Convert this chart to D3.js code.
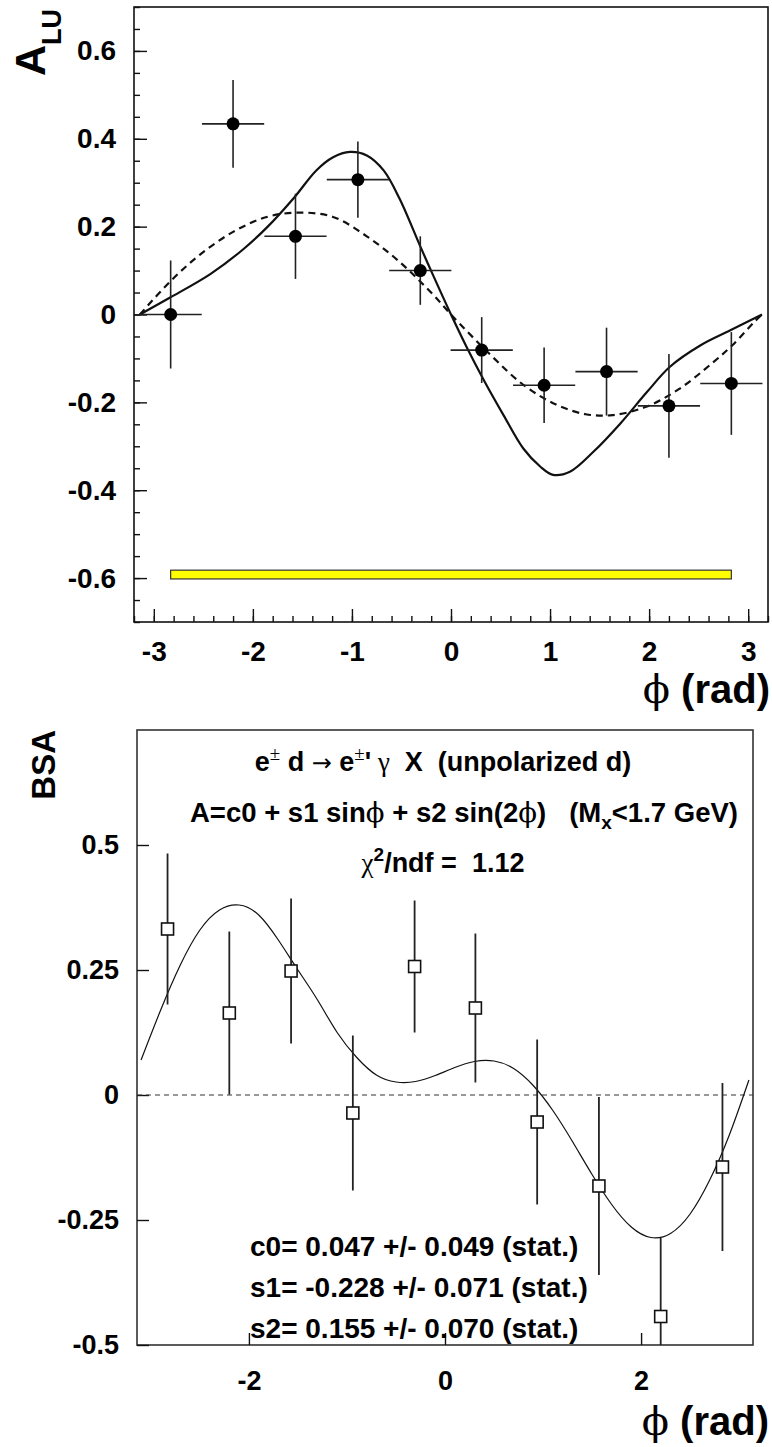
<!DOCTYPE html>
<html>
<head>
<meta charset="utf-8">
<script src="https://cdn.jsdelivr.net/npm/d3@7"></script>
<style>
  body { margin: 0; background: #fff; }
  text { font-family: "Liberation Sans", Arial, sans-serif; font-weight: bold; fill: #000; white-space: pre; }
  .sym { font-family: "Liberation Serif", "Times New Roman", serif; font-weight: normal; }
  .phi { font-family: "DejaVu Serif", "Liberation Serif", serif; font-weight: normal; }
  .arrow { font-family: "DejaVu Sans", sans-serif; font-weight: normal; }
</style>
</head>
<body>
<svg id="chart" width="772" height="1447"></svg>
<script>
// ---- top panel: A_LU vs phi ----
const phiBins = [-2.83, -2.20, -1.57, -0.94, -0.31, 0.31, 0.94, 1.57, 2.20, 2.83]
const binHalfWidth = [0.314, 0.314, 0.314, 0.314, 0.314, 0.314, 0.314, 0.314, 0.314, 0.314]
const aluValues = [0.0, 0.434, 0.178, 0.307, 0.10, -0.081, -0.161, -0.130, -0.208, -0.157]
const aluErrors = [0.123, 0.10, 0.097, 0.087, 0.078, 0.075, 0.086, 0.10, 0.118, 0.117]

const solidPhi = [-3.14, -2.84, -2.43, -2.10, -1.85, -1.58, -1.36, -1.19, -1.02, -0.85, -0.68, -0.52, -0.31, -0.18, 0.0, 0.16, 0.34, 0.53, 0.73, 0.90, 1.03, 1.20, 1.44, 1.71, 1.98, 2.21, 2.52, 2.82, 3.14]
const solidVal = [0.0, 0.038, 0.092, 0.148, 0.20, 0.267, 0.328, 0.358, 0.37, 0.362, 0.328, 0.264, 0.155, 0.089, 0.0, -0.075, -0.153, -0.229, -0.305, -0.346, -0.365, -0.358, -0.312, -0.248, -0.176, -0.119, -0.07, -0.036, 0.0]

const dashedPhi = [-3.14, -2.84, -2.54, -2.20, -1.86, -1.53, -1.19, -0.85, -0.52, -0.18, 0.0, 0.39, 0.73, 1.06, 1.36, 1.63, 1.97, 2.30, 2.64, 2.84, 3.07, 3.14]
const dashedVal = [0.0, 0.074, 0.135, 0.188, 0.222, 0.232, 0.222, 0.178, 0.12, 0.045, 0.0, -0.09, -0.16, -0.205, -0.227, -0.229, -0.21, -0.17, -0.11, -0.07, -0.015, 0.0]

// systematic band: [phi from, phi to, low, high]
const sysBand = [-2.83, 2.83, -0.602, -0.582]

const topXMajor = [-3, -2, -1, 0, 1, 2, 3]
const topXLabels = ['-3', '-2', '-1', '0', '1', '2', '3']
const topYMajor = [-0.6, -0.4, -0.2, 0, 0.2, 0.4, 0.6]
const topYLabels = ['-0.6', '-0.4', '-0.2', '0', '0.2', '0.4', '0.6']

// ---- bottom panel: BSA vs phi ----
const bsaValues = [0.332, 0.164, 0.248, -0.036, 0.257, 0.174, -0.054, -0.182, -0.443, -0.144]
const bsaErrors = [0.151, 0.163, 0.145, 0.155, 0.132, 0.149, 0.165, 0.178, 0.157, 0.168]

const fitPhi = [-3.1, -2.9, -2.7, -2.5, -2.3, -2.1, -1.9, -1.7, -1.5, -1.3, -1.1, -0.9, -0.7, -0.5, -0.3, -0.1, 0.1, 0.3, 0.5, 0.7, 0.9, 1.1, 1.3, 1.5, 1.7, 1.9, 2.1, 2.3, 2.5, 2.7, 2.9, 3.1]
const fitVal = [0.07, 0.17, 0.26, 0.33, 0.37, 0.38, 0.36, 0.31, 0.25, 0.19, 0.125, 0.075, 0.04, 0.026, 0.027, 0.039, 0.055, 0.067, 0.068, 0.053, 0.019, -0.031, -0.093, -0.159, -0.219, -0.264, -0.285, -0.277, -0.238, -0.17, -0.08, 0.03]

const botXMajor = [-2, 0, 2]
const botXLabels = ['-2', '0', '2']
const botYMajor = [-0.5, -0.25, 0, 0.25, 0.5]
const botYLabels = ['-0.5', '-0.25', '0', '0.25', '0.5']

const svg = d3.select('#chart')

function labelFrom (values, labels) {
  return d => labels[values.indexOf(d)]
}

/* TOP PANEL */

const xTop = d3.scaleLinear().domain([-3.2, 3.2]).range([134, 768])
const yTop = d3.scaleLinear().domain([-0.7, 0.7]).range([622, 7])

const topG = svg.append('g')

topG.append('clipPath').attr('id', 'clipTop')
  .append('rect')
  .attr('x', xTop.range()[0]).attr('y', yTop.range()[1])
  .attr('width', xTop.range()[1] - xTop.range()[0])
  .attr('height', yTop.range()[0] - yTop.range()[1])

// frame
topG.append('rect')
  .attr('x', xTop.range()[0]).attr('y', yTop.range()[1])
  .attr('width', xTop.range()[1] - xTop.range()[0])
  .attr('height', yTop.range()[0] - yTop.range()[1])
  .attr('fill', 'none').attr('stroke', '#111').attr('stroke-width', 1.6)

// minor ticks
topG.append('g')
  .attr('transform', `translate(0,${yTop.range()[0]})`)
  .call(d3.axisBottom(xTop).tickValues(d3.range(-32, 33, 2).map(d => d / 10)).tickSize(-6).tickFormat(''))
topG.append('g')
  .attr('transform', `translate(${xTop.range()[0]},0)`)
  .call(d3.axisLeft(yTop).tickValues(d3.range(-14, 15).map(d => d / 20)).tickSize(-6).tickFormat(''))

// major ticks + labels
topG.append('g')
  .attr('transform', `translate(0,${yTop.range()[0]})`)
  .call(d3.axisBottom(xTop).tickValues(topXMajor).tickSize(-13).tickPadding(19)
    .tickFormat(labelFrom(topXMajor, topXLabels)))
topG.append('g')
  .attr('transform', `translate(${xTop.range()[0]},0)`)
  .call(d3.axisLeft(yTop).tickValues(topYMajor).tickSize(-13).tickPadding(18)
    .tickFormat(labelFrom(topYMajor, topYLabels)))

topG.selectAll('.domain').remove()
topG.selectAll('.tick line').attr('stroke', '#111').attr('stroke-width', 1.4)
topG.selectAll('.tick text').attr('font-size', 28).attr('font-family', null).attr('fill', '#000')

// systematic band
topG.append('rect')
  .attr('x', xTop(sysBand[0]))
  .attr('y', yTop(sysBand[3]))
  .attr('width', xTop(sysBand[1]) - xTop(sysBand[0]))
  .attr('height', yTop(sysBand[2]) - yTop(sysBand[3]))
  .attr('fill', '#ffff00').attr('stroke', '#333').attr('stroke-width', 1.2)

const topPlot = topG.append('g').attr('clip-path', 'url(#clipTop)')

const lineTop = d3.line().x(d => xTop(d[0])).y(d => yTop(d[1])).curve(d3.curveCatmullRom.alpha(0.5))

topPlot.append('path')
  .datum(dashedPhi.map((p, i) => [p, dashedVal[i]]))
  .attr('d', lineTop)
  .attr('fill', 'none').attr('stroke', '#111').attr('stroke-width', 2.2)
  .attr('stroke-dasharray', '7,5')

topPlot.append('path')
  .datum(solidPhi.map((p, i) => [p, solidVal[i]]))
  .attr('d', lineTop)
  .attr('fill', 'none').attr('stroke', '#111').attr('stroke-width', 2.2)

// data points with error bars
const topPts = topPlot.selectAll('.pt').data(phiBins).enter().append('g')
topPts.append('line')
  .attr('x1', (d, i) => xTop(d - binHalfWidth[i])).attr('x2', (d, i) => xTop(d + binHalfWidth[i]))
  .attr('y1', (d, i) => yTop(aluValues[i])).attr('y2', (d, i) => yTop(aluValues[i]))
  .attr('stroke', '#222').attr('stroke-width', 1.6)
topPts.append('line')
  .attr('x1', d => xTop(d)).attr('x2', d => xTop(d))
  .attr('y1', (d, i) => yTop(aluValues[i] + aluErrors[i])).attr('y2', (d, i) => yTop(aluValues[i] - aluErrors[i]))
  .attr('stroke', '#222').attr('stroke-width', 1.6)
topPts.append('circle')
  .attr('cx', d => xTop(d)).attr('cy', (d, i) => yTop(aluValues[i]))
  .attr('r', 6.5).attr('fill', '#000')

// axis titles
const aluTitle = topG.append('text')
  .attr('transform', 'translate(45,76) rotate(-90)')
  .attr('font-size', 43)
aluTitle.append('tspan').text('A')
aluTitle.append('tspan').attr('font-size', 27).attr('dy', 16).text('LU')

const phiTop = topG.append('text')
  .attr('x', 770).attr('y', 703)
  .attr('text-anchor', 'end').attr('font-size', 40)
phiTop.append('tspan').attr('class', 'phi').text('ϕ')
phiTop.append('tspan').text(' (rad)')

/* BOTTOM PANEL */

const xBot = d3.scaleLinear().domain([-Math.PI, Math.PI]).range([137, 753])
const yBot = d3.scaleLinear().domain([-0.5, 0.73]).range([1345, 730])

const botG = svg.append('g')

botG.append('clipPath').attr('id', 'clipBot')
  .append('rect')
  .attr('x', xBot.range()[0]).attr('y', yBot.range()[1])
  .attr('width', xBot.range()[1] - xBot.range()[0])
  .attr('height', yBot.range()[0] - yBot.range()[1])

botG.append('rect')
  .attr('x', xBot.range()[0]).attr('y', yBot.range()[1])
  .attr('width', xBot.range()[1] - xBot.range()[0])
  .attr('height', yBot.range()[0] - yBot.range()[1])
  .attr('fill', 'none').attr('stroke', '#333').attr('stroke-width', 1.6)

botG.append('g')
  .attr('transform', `translate(0,${yBot.range()[0]})`)
  .call(d3.axisBottom(xBot).tickValues(botXMajor).tickSize(-12).tickPadding(26)
    .tickFormat(labelFrom(botXMajor, botXLabels)))
botG.append('g')
  .attr('transform', `translate(${xBot.range()[0]},0)`)
  .call(d3.axisLeft(yBot).tickValues(botYMajor).tickSize(-12).tickPadding(18)
    .tickFormat(labelFrom(botYMajor, botYLabels)))

botG.selectAll('.domain').remove()
botG.selectAll('.tick line').attr('stroke', '#111').attr('stroke-width', 1.4)
botG.selectAll('.tick text').attr('font-size', 27).attr('font-family', null).attr('fill', '#000')

const botPlot = botG.append('g').attr('clip-path', 'url(#clipBot)')

// zero line
botPlot.append('line')
  .attr('x1', xBot.range()[0]).attr('x2', xBot.range()[1])
  .attr('y1', yBot(0)).attr('y2', yBot(0))
  .attr('stroke', '#333').attr('stroke-width', 1).attr('stroke-dasharray', '5,4')

const lineBot = d3.line().x(d => xBot(d[0])).y(d => yBot(d[1])).curve(d3.curveNatural)

botPlot.append('path')
  .datum(fitPhi.map((p, i) => [p, fitVal[i]]))
  .attr('d', lineBot)
  .attr('fill', 'none').attr('stroke', '#111').attr('stroke-width', 1.2)

const botPts = botPlot.selectAll('.sq').data(phiBins).enter().append('g')
botPts.append('line')
  .attr('x1', d => xBot(d)).attr('x2', d => xBot(d))
  .attr('y1', (d, i) => yBot(bsaValues[i] + bsaErrors[i])).attr('y2', (d, i) => yBot(bsaValues[i] - bsaErrors[i]))
  .attr('stroke', '#222').attr('stroke-width', 1.8)
botPts.append('rect')
  .attr('x', d => xBot(d) - 6).attr('y', (d, i) => yBot(bsaValues[i]) - 6)
  .attr('width', 12).attr('height', 12)
  .attr('fill', '#fff').attr('stroke', '#111').attr('stroke-width', 1.6)

// texts
botG.append('text')
  .attr('transform', 'translate(55,730) rotate(-90)')
  .attr('text-anchor', 'end').attr('font-size', 33)
  .text('BSA')

const line1 = botG.append('text').attr('x', 443).attr('y', 771).attr('text-anchor', 'middle').attr('font-size', 27)
line1.append('tspan').text('e')
line1.append('tspan').attr('class', 'sym').attr('font-size', 19).attr('dy', -11).text('±')
line1.append('tspan').attr('dy', 11).text(' d ')
line1.append('tspan').attr('class', 'arrow').attr('font-size', 24).text('→')
line1.append('tspan').text(' e')
line1.append('tspan').attr('class', 'sym').attr('font-size', 19).attr('dy', -11).text('±')
line1.append('tspan').attr('dy', 11).text('\'')
line1.append('tspan').attr('class', 'sym').text(' γ')
line1.append('tspan').text('  X  (unpolarized d)')

const line2 = botG.append('text').attr('x', 190).attr('y', 822).attr('font-size', 27.5)
line2.append('tspan').text('A=c0 + s1 sin')
line2.append('tspan').attr('class', 'phi').text('ϕ')
line2.append('tspan').text(' + s2 sin(2')
line2.append('tspan').attr('class', 'phi').text('ϕ')
line2.append('tspan').text(')   (M')
line2.append('tspan').attr('font-size', 19).attr('dy', 7).text('x')
line2.append('tspan').attr('dy', -7).text('<1.7 GeV)')

const line3 = botG.append('text').attr('x', 443).attr('y', 872).attr('text-anchor', 'middle').attr('font-size', 27)
line3.append('tspan').attr('class', 'sym').text('χ')
line3.append('tspan').attr('font-size', 19).attr('dy', -11).text('2')
line3.append('tspan').attr('dy', 11).text('/ndf =  1.12')

const statLines = ['c0= 0.047 +/- 0.049 (stat.)', 's1= -0.228 +/- 0.071 (stat.)', 's2= 0.155 +/- 0.070 (stat.)']
botG.selectAll('.stat').data(statLines).enter().append('text')
  .attr('x', 250).attr('y', (d, i) => 1256 + i * 41)
  .attr('font-size', 28)
  .text(d => d)

const phiBot = botG.append('text')
  .attr('x', 769).attr('y', 1435)
  .attr('text-anchor', 'end').attr('font-size', 40)
phiBot.append('tspan').attr('class', 'phi').text('ϕ')
phiBot.append('tspan').text(' (rad)')
</script>
</body>
</html>
